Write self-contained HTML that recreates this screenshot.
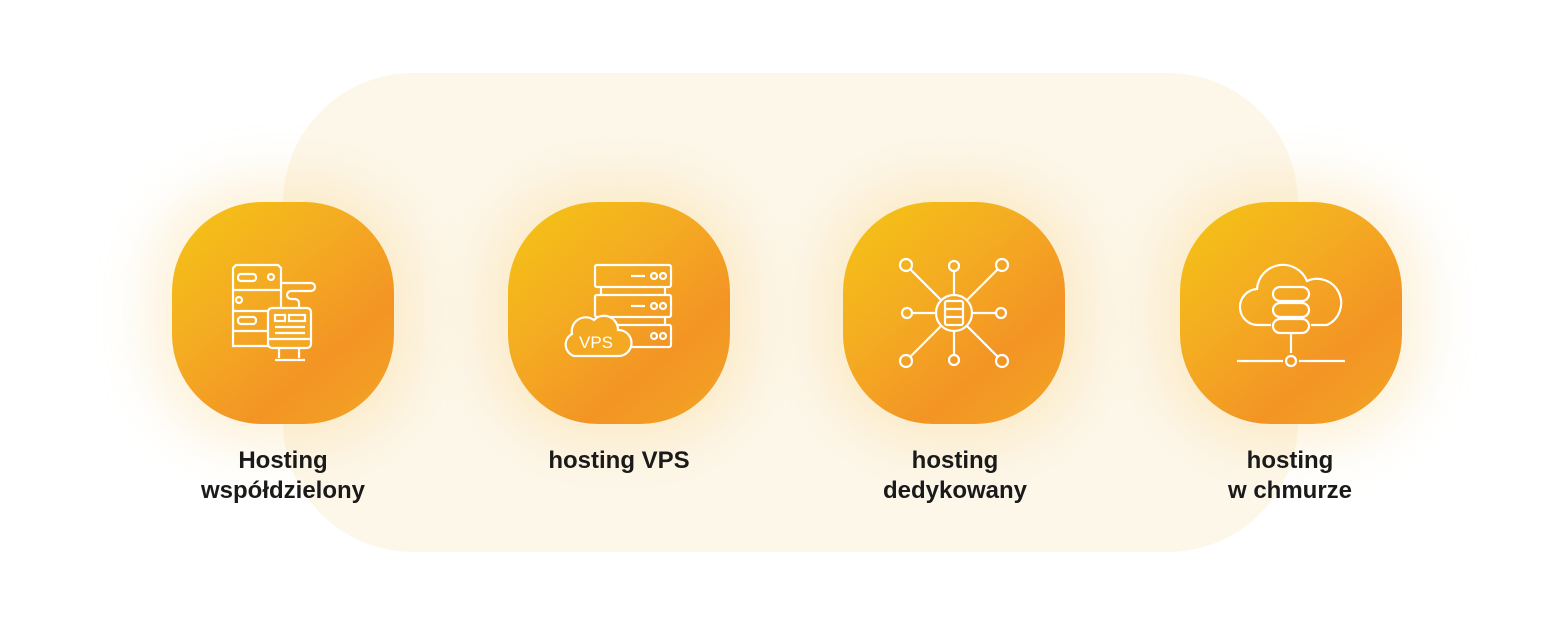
<!DOCTYPE html>
<html><head><meta charset="utf-8"><style>
body{margin:0;width:1563px;height:626px;background:#fff;position:relative;overflow:hidden;font-family:"Liberation Sans",sans-serif}
.bg{position:absolute;left:283px;top:73px;width:1015px;height:479px;border-radius:130px;background:#fdf6e6;opacity:.85}
.glow{position:absolute;width:270px;height:270px;border-radius:110px;background:rgba(248,195,90,.22);filter:blur(25px)}
.box{position:absolute;top:202px;width:222px;height:222px;border-radius:90px;background:linear-gradient(140deg,#f4c514 0%,#f4ab22 40%,#f39424 70%,#f3a523 100%)}
.box svg{position:absolute;left:51px;top:51px}
.lbl{position:absolute;top:446px;width:300px;text-align:center;font-size:24px;font-weight:bold;color:#1a1a1a;line-height:30px}
</style></head><body>
<div class="bg"></div>
<div class="glow" style="left:148px;top:178px"></div>
<div class="glow" style="left:484px;top:178px"></div>
<div class="glow" style="left:819px;top:178px"></div>
<div class="glow" style="left:1156px;top:178px"></div>

<div class="box" style="left:172px"><svg width="120" height="120" viewBox="0 0 120 120" fill="none" stroke="#fff" stroke-width="2.2">
<path d="M10 15 l3 -3 h42 l3 3 v78 h-48z"/><line x1="10" y1="37" x2="58" y2="37"/><line x1="10" y1="58" x2="58" y2="58"/><line x1="10" y1="78" x2="58" y2="78"/>
<rect x="15" y="21" width="18" height="7" rx="3"/><circle cx="48" cy="24" r="3"/><circle cx="16" cy="47" r="3"/><rect x="15" y="64" width="18" height="7" rx="3"/>
<path d="M58 30 h30 a4 4 0 0 1 0 8 h-20 a4 4 0 0 0 0 8 h4 a4 4 0 0 1 4 4 v5"/>
<rect x="45" y="55" width="43" height="40" rx="4" fill="#f4a823"/><line x1="45" y1="86" x2="88" y2="86"/><path d="M56 95 v10 M76 95 v10 M52 107 h30"/>
<rect x="52" y="62" width="10" height="6"/><rect x="66" y="62" width="16" height="6"/><line x1="52" y1="74" x2="82" y2="74"/><line x1="52" y1="80" x2="82" y2="80"/></svg></div>

<div class="box" style="left:508px"><svg width="120" height="120" viewBox="0 0 120 120" fill="none" stroke="#fff" stroke-width="2.2">
<rect x="36" y="12" width="76" height="22" rx="2"/><rect x="36" y="42" width="76" height="22" rx="2"/><rect x="36" y="72" width="76" height="22" rx="2"/>
<path d="M42 34 v8 M106 34 v8 M42 64 v8 M106 64 v8"/>
<circle cx="95" cy="23" r="3"/><circle cx="104" cy="23" r="3"/><circle cx="95" cy="53" r="3"/><circle cx="104" cy="53" r="3"/><circle cx="95" cy="83" r="3"/><circle cx="104" cy="83" r="3"/>
<line x1="72" y1="23" x2="86" y2="23"/><line x1="72" y1="53" x2="86" y2="53"/>
<path d="M15 103 a12 12 0 0 1 -2 -22 a14 14 0 0 1 22 -14 a14 14 0 0 1 24 10 a12 12 0 0 1 1 26 z" fill="#f4a923"/>
<text x="37" y="95" fill="#fff" stroke="none" font-size="17" text-anchor="middle" font-family="Liberation Sans">VPS</text></svg></div>

<div class="box" style="left:843px"><svg width="120" height="120" viewBox="0 0 120 120" fill="none" stroke="#fff" stroke-width="2.2">
<circle cx="60" cy="60" r="18"/><rect x="51" y="48" width="18" height="24" rx="2"/><line x1="51" y1="56" x2="69" y2="56"/><line x1="51" y1="64" x2="69" y2="64"/>
<circle cx="60" cy="13" r="5"/><circle cx="60" cy="107" r="5"/><circle cx="13" cy="60" r="5"/><circle cx="107" cy="60" r="5"/>
<circle cx="12" cy="12" r="6"/><circle cx="108" cy="12" r="6"/><circle cx="12" cy="108" r="6"/><circle cx="108" cy="108" r="6"/>
<path d="M60 18 v24 M60 78 v24 M18 60 h24 M78 60 h24 M16 16 l31 31 M104 16 l-31 31 M16 104 l31 -31 M104 104 l-31 -31"/></svg></div>

<div class="box" style="left:1180px"><svg width="120" height="120" viewBox="0 0 120 120" fill="none" stroke="#fff" stroke-width="2.2">
<path d="M40 72 h-12 a18 18 0 0 1 -2 -36 a26 26 0 0 1 50 -8 a20 20 0 0 1 20 44 h-16"/>
<rect x="42" y="34" width="36" height="14" rx="7"/><rect x="42" y="50" width="36" height="14" rx="7"/><rect x="42" y="66" width="36" height="14" rx="7"/>
<path d="M60 80 v20 M6 108 h46 M68 108 h46"/><circle cx="60" cy="108" r="5"/></svg></div>

<div class="lbl" style="left:133px">Hosting<br>współdzielony</div>
<div class="lbl" style="left:469px">hosting VPS</div>
<div class="lbl" style="left:805px">hosting<br>dedykowany</div>
<div class="lbl" style="left:1140px">hosting<br>w chmurze</div>
</body></html>
